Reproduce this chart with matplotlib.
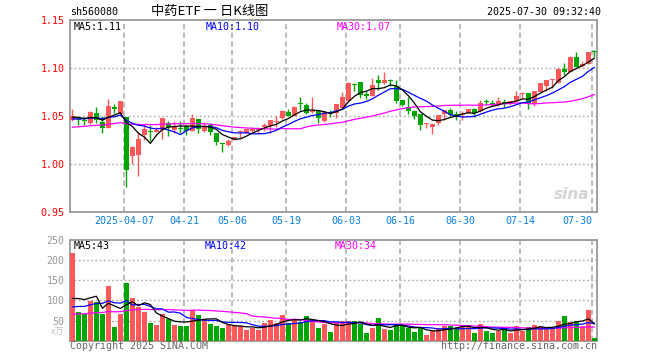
import numpy as np
import pandas as pd
import matplotlib
matplotlib.use("Agg")
import matplotlib.pyplot as plt

# daily bars 2025-03-24 .. 2025-07-30
open_ = [1.046, 1.047, 1.046, 1.043, 1.053, 1.044, 1.038, 1.060, 1.052, 1.049,
         1.008, 1.009, 1.030, 1.035, 1.033, 1.036, 1.043, 1.036, 1.038, 1.040,
         1.035, 1.047, 1.035, 1.041, 1.0325, 1.022, 1.020, 1.0246, 1.033, 1.032,
         1.035, 1.036, 1.039, 1.040, 1.044, 1.048, 1.054, 1.0505, 1.0633, 1.062,
         1.0543, 1.055, 1.0446, 1.054, 1.0533, 1.0585, 1.0654, 1.0837, 1.0858, 1.073,
         1.0713, 1.0879, 1.0844, 1.0872, 1.0817, 1.0664, 1.0592, 1.0557, 1.0519, 1.0418,
         1.0388, 1.0429, 1.0526, 1.0567, 1.0526, 1.051, 1.0538, 1.0576, 1.0549, 1.0656,
         1.0642, 1.0618, 1.0638, 1.0628, 1.0663, 1.073, 1.074, 1.0628, 1.0757, 1.0816,
         1.0872, 1.0851, 1.099, 1.0965, 1.1122, 1.1028, 1.1042, 1.1175]
high = [1.057, 1.050, 1.049, 1.055, 1.060, 1.050, 1.068, 1.063, 1.066, 1.049,
        1.019, 1.033, 1.041, 1.041, 1.039, 1.048, 1.045, 1.045, 1.045, 1.041,
        1.052, 1.047, 1.044, 1.043, 1.0325, 1.022, 1.026, 1.0284, 1.036, 1.037,
        1.039, 1.039, 1.043, 1.046, 1.050, 1.056, 1.057, 1.061, 1.070, 1.064,
        1.0696, 1.0567, 1.055, 1.0567, 1.063, 1.0747, 1.0858, 1.0851, 1.0858, 1.0758,
        1.0893, 1.0931, 1.0962, 1.0886, 1.0872, 1.0671, 1.0699, 1.0567, 1.0526, 1.0429,
        1.0415, 1.0516, 1.0567, 1.0585, 1.055, 1.0549, 1.0576, 1.0583, 1.067, 1.0677,
        1.067, 1.0705, 1.0677, 1.0663, 1.0764, 1.0757, 1.0745, 1.0764, 1.0851, 1.0872,
        1.0885, 1.100, 1.1059, 1.1128, 1.117, 1.1076, 1.117, 1.1191]
low = [1.045, 1.041, 1.041, 1.042, 1.043, 1.032, 1.038, 1.053, 1.052, 0.976,
       1.000, 0.988, 1.025, 1.024, 1.033, 1.026, 1.029, 1.032, 1.032, 1.030,
       1.034, 1.0325, 1.033, 1.030, 1.020, 1.0125, 1.019, 1.0246, 1.027, 1.032,
       1.032, 1.031, 1.035, 1.032, 1.039, 1.047, 1.050, 1.050, 1.056, 1.0526,
       1.0533, 1.0429, 1.0443, 1.0491, 1.0481, 1.0585, 1.0644, 1.0758, 1.0689, 1.0678,
       1.0706, 1.0775, 1.0837, 1.0817, 1.0637, 1.0602, 1.0526, 1.0471, 1.0353, 1.0377,
       1.0318, 1.0412, 1.0457, 1.0491, 1.0464, 1.0462, 1.0538, 1.049, 1.0542, 1.0618,
       1.0601, 1.0608, 1.0594, 1.0618, 1.0653, 1.0688, 1.0576, 1.0611, 1.0757, 1.0764,
       1.0792, 1.0851, 1.0931, 1.0965, 1.101, 1.1017, 1.1042, 1.1122]
close = [1.050, 1.046, 1.045, 1.054, 1.046, 1.038, 1.061, 1.057, 1.066, 0.994,
         1.018, 1.026, 1.037, 1.033, 1.036, 1.048, 1.039, 1.039, 1.037, 1.035,
         1.048, 1.037, 1.040, 1.033, 1.023, 1.021, 1.024, 1.0284, 1.035, 1.037,
         1.037, 1.038, 1.041, 1.046, 1.045, 1.055, 1.0505, 1.060, 1.063, 1.0533,
         1.055, 1.048, 1.054, 1.053, 1.063, 1.0696, 1.0851, 1.0827, 1.0723, 1.0706,
         1.0827, 1.0851, 1.0879, 1.0865, 1.0654, 1.0619, 1.055, 1.0498, 1.0408, 1.0425,
         1.0415, 1.0516, 1.0561, 1.0516, 1.0498, 1.0524, 1.0576, 1.0531, 1.0635, 1.065,
         1.0618, 1.0653, 1.0632, 1.0663, 1.0712, 1.0736, 1.0642, 1.0764, 1.0844, 1.0872,
         1.0885, 1.099, 1.0965, 1.1122, 1.1017, 1.1042, 1.117, 1.117]
volume = [217, 72, 67, 99, 97, 67, 135, 34, 67, 143,
          105, 84, 72, 45, 39, 66, 53, 39, 37, 37,
          77, 64, 51, 42, 37, 32, 39, 37, 37, 27,
          32, 27, 45, 52, 45, 64, 45, 55, 47, 62,
          54, 32, 41, 22, 45, 49, 49, 49, 42, 18,
          32, 57, 30, 27, 42, 37, 32, 22, 31, 14,
          24, 31, 37, 37, 31, 39, 37, 18, 42, 25,
          20, 25, 30, 20, 37, 25, 34, 39, 37, 28,
          28, 49, 62, 47, 49, 37, 75, 7]

# closes / volumes before the first visible bar (only feed the moving averages)
hist_close = [1.030, 1.032, 1.035, 1.033, 1.031, 1.034, 1.036, 1.035, 1.033, 1.032,
              1.034, 1.036, 1.037, 1.035, 1.034, 1.033, 1.035, 1.036, 1.034, 1.037,
              1.044, 1.046, 1.045, 1.044, 1.046, 1.048, 1.050, 1.049, 1.048]
hist_vol = [52, 60, 55, 58, 61, 54, 57, 59, 56, 53,
            58, 60, 55, 57, 59, 56, 58, 54, 57, 60,
            62, 65, 60, 64, 64, 74, 80, 76, 78]

tick_idx = [9, 19, 27, 36, 46, 55, 65, 75, 87]
tick_labels = ["2025-04-07", "04-21", "05-06", "05-19", "06-03",
               "06-16", "06-30", "07-14", "07-30"]
price_ticks = [0.95, 1.00, 1.05, 1.10, 1.15]
vol_ticks = [50, 100, 150, 200, 250]

red = "#ff5858"
green = "#00a600"
grid_c = "#aaaaaa"
date_c = "#0a80d8"
fs = 7.2
mono = "DejaVu Sans Mono"
cjk = ["Noto Sans CJK SC", "DejaVu Sans"]
plt.rcParams["font.family"] = [mono, "Noto Sans CJK SC"]

W, H = 660.0, 360.0
def fx(px):
    return px / W
def fy(py):
    return 1 - py / H

fig = plt.figure(figsize=(6.6, 3.6), dpi=100, facecolor="w")
ax = fig.add_axes([fx(70.3), fy(212), fx(597.3) - fx(70.3), (212 - 20.3) / H])
ax2 = fig.add_axes([fx(70.3), fy(340.7), fx(597.3) - fx(70.3), (340.7 - 240) / H])

o = np.array(open_)
h = np.array(high)
l = np.array(low)
c = np.array(close)
v = np.array(volume)
x = np.arange(len(c))
cols = np.where(c >= o, red, green)

# moving averages
n = len(hist_close)
cs = pd.Series(hist_close + close)
vs = pd.Series(hist_vol + volume)
ma = {k: cs.rolling(k).mean().values[n:] for k in (5, 10, 30)}
vma = {k: vs.rolling(k).mean().values[n:] for k in (5, 10, 30)}
ma_cols = {5: "black", 10: "#0000ff", 30: "#ff00ff"}

for a in (ax, ax2):
    a.set_xlim(-0.35, 87.5)
    for t in tick_idx:
        a.axvline(t - 0.35, color=grid_c, lw=1.1, ls=(0, (3.5, 2.2)), zorder=1)
    for s in a.spines.values():
        s.set_color("#999999")
        s.set_linewidth(1.3)
    a.set_xticks([])
    a.tick_params(axis="y", length=0, pad=4, labelsize=fs)

# candles
ax.vlines(x, l, h, colors=cols, lw=1.0, zorder=3)
body = np.maximum(np.abs(c - o), 0.0011)
ax.bar(x, body, bottom=np.minimum(o, c), width=0.8, color=cols, lw=0, zorder=3)
for k in (30, 10, 5):
    ax.plot(x, ma[k], color=ma_cols[k], lw=0.9, zorder=4)
ax.set_ylim(0.95, 1.15)
ax.set_yticks(price_ticks)
ax.set_yticklabels(["%.2f" % p for p in price_ticks], color="#ff0000")
for p in price_ticks[1:-1]:
    ax.axhline(p, color=grid_c, lw=1.0, ls=(0, (1.2, 1.8)), zorder=1)

for t, lab in zip(tick_idx, tick_labels):
    ha = "right" if t == tick_idx[-1] else "center"
    ax.text(t - 0.35, -0.047, lab, transform=ax.get_xaxis_transform(),
            ha=ha, va="center", color=date_c, fontsize=fs)

ax.text(0.985, 0.05, "sina", transform=ax.transAxes, ha="right", va="bottom",
        fontsize=11, fontstyle="italic", fontweight="bold", color="#d4d4d4",
        family="DejaVu Sans", zorder=2)

# volume
ax2.bar(x, v, width=0.8, color=cols, lw=0, zorder=3)
for k in (30, 10, 5):
    ax2.plot(x, vma[k], color=ma_cols[k], lw=0.9, zorder=4)
ax2.set_ylim(0, 250)
ax2.set_yticks(vol_ticks)
ax2.set_yticklabels([str(t) for t in vol_ticks], color="#999999")
for t in vol_ticks[:-1]:
    ax2.axhline(t, color=grid_c, lw=1.0, ls=(0, (1.2, 1.8)), zorder=1)

# texts
fig.text(fx(70), fy(12), "sh560080", fontsize=fs, va="center", ha="left")
fig.text(fx(210), fy(12), "中药ETF 一 日K线图", fontsize=9.5, va="center",
         ha="center", family=cjk)
fig.text(fx(601), fy(12), "2025-07-30 09:32:40", fontsize=fs, va="center", ha="right")

fig.text(fx(74), fy(27), "MA5:%.2f" % ma[5][-1], fontsize=fs, va="center", color="black")
fig.text(fx(206), fy(27), "MA10:%.2f" % ma[10][-1], fontsize=fs, va="center", color=ma_cols[10])
fig.text(fx(337), fy(27), "MA30:%.2f" % ma[30][-1], fontsize=fs, va="center", color=ma_cols[30])

fig.text(fx(74), fy(246), "MA5:%d" % round(vma[5][-1]), fontsize=fs, va="center", color="black")
fig.text(fx(205), fy(246), "MA10:%d" % round(vma[10][-1]), fontsize=fs, va="center", color=ma_cols[10])
fig.text(fx(335), fy(246), "MA30:%d" % round(vma[30][-1]), fontsize=fs, va="center", color=ma_cols[30])

fig.text(fx(64), fy(332), "x万", fontsize=6.5, va="center", ha="right",
         color="#c0c0c0", family=cjk)
fig.text(fx(70), fy(346), "Copyright 2025 SINA.COM", fontsize=fs, va="center",
         ha="left", color="#666666")
fig.text(fx(597), fy(346), "http://finance.sina.com.cn", fontsize=fs, va="center",
         ha="right", color="#666666")

fig.savefig("out.png", dpi=100, facecolor="w")
